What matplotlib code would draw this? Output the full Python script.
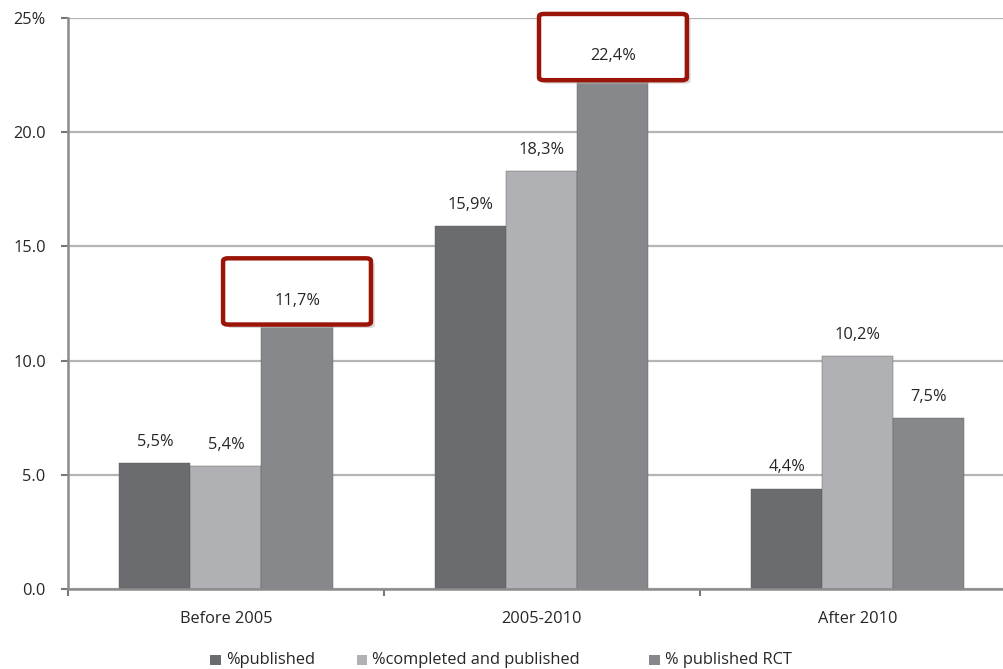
import numpy as np
import matplotlib.pyplot as plt
from matplotlib.patches import FancyBboxPatch, Rectangle

# data
groups = ['Before 2005', '2005-2010', 'After 2010']
series = ['%published', '%completed and published', '% published RCT']
published = [5.5, 15.9, 4.4]
completed_published = [5.4, 18.3, 10.2]
published_rct = [11.7, 22.4, 7.5]
ytick_labels = ['0.0', '5.0', '10.0', '15.0', '20.0', '25%']
highlight = [(0, 2), (1, 2)]   # (group, series) with red boxes

colors = ['#6b6c70', '#b0b1b4', '#87888c']
text_col = '#262626'
plt.rcParams['font.family'] = ['Open Sans', 'DejaVu Sans']
fs = 11.8

fig = plt.figure(figsize=(10.04, 6.69), dpi=100)
ax = fig.add_axes([0.0677, 0.1196, 0.944, 0.8534])

x = np.arange(len(groups))
w = 0.225
values = [published, completed_published, published_rct]

ax.set_ylim(0, 25)
ax.set_xlim(-0.5, 2.5)
ax.set_yticks([0, 5, 10, 15, 20, 25])
ax.set_yticklabels(ytick_labels)
ax.yaxis.grid(True, color='#b5b5b5', linewidth=1.6, zorder=0)
ax.set_axisbelow(True)

for i, vals in enumerate(values):
    pos = x + (i - 1) * w
    ax.bar(pos, vals, w, color=colors[i], label=series[i], zorder=2,
           edgecolor='#5a5a5a', linewidth=0.3)
    for gi, (px, v) in enumerate(zip(pos, vals)):
        if (gi, i) in highlight:
            bw = 0.468
            y0 = v - 0.12
            h = 2.9
            # shadow
            sh = FancyBboxPatch((px - bw / 2 + 0.012, y0 - 0.15), bw, h,
                                boxstyle='round,pad=0,rounding_size=0.015',
                                facecolor='#bdbdbd', edgecolor='none', alpha=0.6,
                                zorder=3, clip_on=False, mutation_aspect=8)
            ax.add_patch(sh)
            box = FancyBboxPatch((px - bw / 2, y0), bw, h,
                                 boxstyle='round,pad=0,rounding_size=0.015',
                                 facecolor='white', edgecolor='#9b1408',
                                 linewidth=3.2, zorder=4, clip_on=False,
                                 mutation_aspect=8)
            ax.add_patch(box)
        label = f'{v:.1f}%'.replace('.', ',')
        ax.text(px, v + 0.92, label, ha='center', va='center', fontsize=fs,
                color=text_col, zorder=5)

# category axis ticks at group boundaries
ax.set_xticks([-0.5, 0.5, 1.5], minor=True)
ax.set_xticks(x)
ax.set_xticklabels(groups, fontsize=fs, color=text_col)
ax.tick_params(axis='x', which='major', length=0, pad=16)
ax.tick_params(axis='x', which='minor', length=5, width=1.5, color='#777777')
ax.tick_params(axis='y', length=5, width=1.5, color='#777777', labelsize=fs,
               labelcolor=text_col, pad=11)

for s in ['top', 'right']:
    ax.spines[s].set_visible(False)
for s in ['left', 'bottom']:
    ax.spines[s].set_color('#8c8c8c')
    ax.spines[s].set_linewidth(1.8)

# legend drawn by hand to match uneven spacing
leg_x = [0.2095, 0.3555, 0.6465]
leg_y = 0.0135
sq_w, sq_h = 0.0105, 0.0158
for lx, c, name in zip(leg_x, colors, series):
    fig.add_artist(Rectangle((lx, leg_y - sq_h / 2), sq_w, sq_h,
                             transform=fig.transFigure, facecolor=c,
                             edgecolor='none'))
    fig.text(lx + sq_w + 0.005, leg_y, name, fontsize=fs, color=text_col,
             va='center', ha='left')

fig.savefig('out.png', dpi=100)
